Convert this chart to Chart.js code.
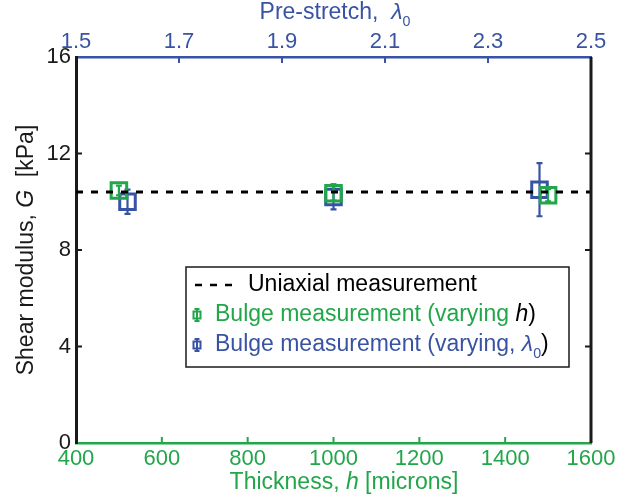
<!DOCTYPE html>
<html>
<head>
<meta charset="utf-8">
<script src="https://cdn.jsdelivr.net/npm/chart.js@4/dist/chart.umd.min.js"></script>
<style>
  html, body { margin: 0; padding: 0; background: #fff; }
  #wrap { width: 639px; height: 501px; }
</style>
</head>
<body>
<div id="wrap"><canvas id="c" width="639" height="501"></canvas></div>
<script>
// ---- data ----
const thickness = [500, 1000, 1500];          // h [microns]
const gThickness = [10.47, 10.35, 10.27];      // G [kPa], varying h
const errThickness = [0.2, 0.3, 0.25];
const preStretch = [1.6, 2.0, 2.4];            // lambda_0
const gPreStretch = [10.0, 10.2, 10.5];        // G [kPa], varying lambda_0
const errPreStretch = [0.5, 0.52, 1.1];
const uniaxialG = 10.4;
const uniaxialX = [400, 1600];
const xTicksBottom = [400, 600, 800, 1000, 1200, 1400, 1600];
const xTicksTop = [1.5, 1.7, 1.9, 2.1, 2.3, 2.5];
const yTicks = [0, 4, 8, 12, 16];

const GREEN = '#22a64a';
const BLUE = '#3953a4';
const FONT = '"Liberation Sans", Arial, Helvetica, sans-serif';

function richText(ctx, segs, x, y, align) {
  let total = 0;
  const m = segs.map(s => {
    const size = s.sub ? s.size * 0.62 : s.size;
    const f = (s.italic ? 'italic ' : '') + size + 'px ' + FONT;
    ctx.font = f;
    const w = ctx.measureText(s.t).width;
    total += w;
    return { f, w, s };
  });
  let cx = align === 'center' ? x - total / 2 : x;
  for (const it of m) {
    ctx.font = it.f;
    ctx.fillStyle = it.s.color;
    ctx.fillText(it.s.t, cx, y + (it.s.sub ? it.s.size * 0.38 : 0));
    cx += it.w;
  }
}

function drawMarker(ctx, x, y, half, color, lw, errHalf, cap) {
  ctx.save();
  ctx.strokeStyle = color;
  ctx.lineWidth = lw;
  ctx.strokeRect(x - half, y - half, half * 2, half * 2);
  ctx.beginPath();
  ctx.moveTo(x, y - errHalf); ctx.lineTo(x, y + errHalf);
  ctx.moveTo(x - cap, y - errHalf); ctx.lineTo(x + cap, y - errHalf);
  ctx.moveTo(x - cap, y + errHalf); ctx.lineTo(x + cap, y + errHalf);
  ctx.stroke();
  ctx.restore();
}

const errorBars = {
  id: 'errorBars',
  afterDatasetDraw(chart, args) {
    const ds = chart.data.datasets[args.index];
    if (!ds.errors) return;
    const ctx = chart.ctx;
    const xs = chart.scales[ds.xAxisID];
    const ys = chart.scales.y;
    ctx.save();
    ctx.strokeStyle = ds.borderColor;
    ctx.lineWidth = 2.2;
    ds.data.forEach((p, i) => {
      const px = xs.getPixelForValue(p.x);
      const y1 = ys.getPixelForValue(p.y + ds.errors[i]);
      const y2 = ys.getPixelForValue(p.y - ds.errors[i]);
      const cap = 3;
      ctx.beginPath();
      ctx.moveTo(px, y1); ctx.lineTo(px, y2);
      ctx.moveTo(px - cap, y1); ctx.lineTo(px + cap, y1);
      ctx.moveTo(px - cap, y2); ctx.lineTo(px + cap, y2);
      ctx.stroke();
    });
    ctx.restore();
  }
};

const decor = {
  id: 'decor',
  afterDraw(chart) {
    const ctx = chart.ctx;
    const a = chart.chartArea;
    const sx = chart.scales.x, sx2 = chart.scales.x2, sy = chart.scales.y;
    ctx.save();
    ctx.strokeStyle = '#1a1a1a';
    ctx.lineWidth = 3;
    ctx.beginPath();
    ctx.moveTo(a.right, a.top); ctx.lineTo(a.right, a.bottom);
    ctx.stroke();
    const TL = 6;
    ctx.lineWidth = 2;
    ctx.strokeStyle = '#1a1a1a';
    yTicks.slice(1, -1).forEach(v => {
      const py = sy.getPixelForValue(v);
      ctx.beginPath();
      ctx.moveTo(a.left, py); ctx.lineTo(a.left + TL, py);
      ctx.moveTo(a.right, py); ctx.lineTo(a.right - TL, py);
      ctx.stroke();
    });
    ctx.strokeStyle = GREEN;
    xTicksBottom.slice(1, -1).forEach(v => {
      const px = sx.getPixelForValue(v);
      ctx.beginPath();
      ctx.moveTo(px, a.bottom); ctx.lineTo(px, a.bottom - TL);
      ctx.stroke();
    });
    ctx.strokeStyle = BLUE;
    xTicksTop.slice(1, -1).forEach(v => {
      const px = sx2.getPixelForValue(v);
      ctx.beginPath();
      ctx.moveTo(px, a.top); ctx.lineTo(px, a.top + TL);
      ctx.stroke();
    });

    ctx.textBaseline = 'middle';
    ctx.textAlign = 'left';
    richText(ctx, [
      { t: 'Thickness, ', size: 23, color: GREEN },
      { t: 'h', italic: true, size: 23, color: GREEN },
      { t: ' [microns]', size: 23, color: GREEN }
    ], 344, 483, 'center');
    richText(ctx, [
      { t: 'Pre-stretch,  ', size: 23, color: BLUE },
      { t: 'λ', italic: true, size: 23, color: BLUE },
      { t: '0', sub: true, size: 23, color: BLUE }
    ], 335, 13, 'center');
    ctx.save();
    ctx.translate(27, (a.top + a.bottom) / 2);
    ctx.rotate(-Math.PI / 2);
    richText(ctx, [
      { t: 'Shear modulus, ', size: 23, color: '#1a1a1a' },
      { t: 'G', italic: true, size: 23, color: '#1a1a1a' },
      { t: '  [kPa]', size: 23, color: '#1a1a1a' }
    ], 0, 0, 'center');
    ctx.restore();

    const L = 186, T = 267, R = 569, B = 367;
    ctx.fillStyle = '#fff';
    ctx.fillRect(L, T, R - L, B - T);
    ctx.strokeStyle = '#1a1a1a';
    ctx.lineWidth = 1.5;
    ctx.strokeRect(L, T, R - L, B - T);
    ctx.strokeStyle = '#000';
    ctx.lineWidth = 2.5;
    ctx.setLineDash([7, 8]);
    ctx.beginPath();
    ctx.moveTo(195, 285); ctx.lineTo(236, 285);
    ctx.stroke();
    ctx.setLineDash([]);
    drawMarker(ctx, 197, 315, 3.5, GREEN, 2, 6, 2.5);
    drawMarker(ctx, 197, 345, 3.5, BLUE, 2, 6, 2.5);
    richText(ctx, [{ t: 'Uniaxial measurement', size: 23, color: '#000' }], 248, 285, 'left');
    richText(ctx, [
      { t: 'Bulge measurement (varying ', size: 23, color: GREEN },
      { t: 'h', italic: true, size: 23, color: '#000' },
      { t: ')', size: 23, color: '#000' }
    ], 215, 315, 'left');
    richText(ctx, [
      { t: 'Bulge measurement (varying, ', size: 23, color: BLUE },
      { t: 'λ', italic: true, size: 23, color: BLUE },
      { t: '0', sub: true, size: 23, color: BLUE },
      { t: ')', size: 23, color: '#000' }
    ], 215, 345, 'left');
    ctx.restore();
  }
};

const ctx = document.getElementById('c').getContext('2d');
new Chart(ctx, {
  type: 'scatter',
  data: {
    datasets: [
      {
        label: 'Uniaxial measurement',
        data: uniaxialX.map(x => ({ x, y: uniaxialG })),
        xAxisID: 'x',
        showLine: true,
        borderColor: '#000',
        borderWidth: 3,
        borderDash: [7, 8],
        pointRadius: 0,
        pointHoverRadius: 0
      },
      {
        label: 'Bulge measurement (varying h)',
        data: thickness.map((x, i) => ({ x, y: gThickness[i] })),
        errors: errThickness,
        xAxisID: 'x',
        borderColor: GREEN,
        backgroundColor: 'rgba(0,0,0,0)',
        pointStyle: 'rect',
        pointRadius: 11,
        pointBorderWidth: 3
      },
      {
        label: 'Bulge measurement (varying, λ0)',
        data: preStretch.map((x, i) => ({ x, y: gPreStretch[i] })),
        errors: errPreStretch,
        xAxisID: 'x2',
        borderColor: BLUE,
        backgroundColor: 'rgba(0,0,0,0)',
        pointStyle: 'rect',
        pointRadius: 11,
        pointBorderWidth: 3
      }
    ]
  },
  options: {
    responsive: false,
    animation: false,
    layout: { padding: { left: 0, right: 48, top: 0, bottom: 0 } },
    plugins: { legend: { display: false }, tooltip: { enabled: false } },
    scales: {
      x: {
        type: 'linear', position: 'bottom', min: 400, max: 1600,
        afterFit: s => { s.height = 58; },
        afterBuildTicks: s => { s.ticks = xTicksBottom.map(v => ({ value: v })); },
        ticks: { color: GREEN, font: { family: FONT, size: 22 }, padding: 3, maxRotation: 0, autoSkip: false,
                 callback: v => String(Math.round(v)) },
        grid: { display: false, drawTicks: false },
        border: { color: GREEN, width: 2.5 }
      },
      x2: {
        type: 'linear', position: 'top', min: 1.5, max: 2.5,
        afterFit: s => { s.height = 57; },
        afterBuildTicks: s => { s.ticks = xTicksTop.map(v => ({ value: v })); },
        ticks: { color: BLUE, font: { family: FONT, size: 22 }, padding: 2, maxRotation: 0, autoSkip: false,
                 callback: v => Number(v).toFixed(1) },
        grid: { display: false, drawTicks: false },
        border: { color: BLUE, width: 2.5 }
      },
      y: {
        type: 'linear', position: 'left', min: 0, max: 16,
        afterFit: s => { s.width = 76; },
        afterBuildTicks: s => { s.ticks = yTicks.map(v => ({ value: v })); },
        ticks: { color: '#1a1a1a', font: { family: FONT, size: 22 }, padding: 5,
                 callback: v => String(Math.round(v)) },
        grid: { display: false, drawTicks: false },
        border: { color: '#1a1a1a', width: 3 }
      }
    }
  },
  plugins: [errorBars, decor]
});
</script>
</body>
</html>
